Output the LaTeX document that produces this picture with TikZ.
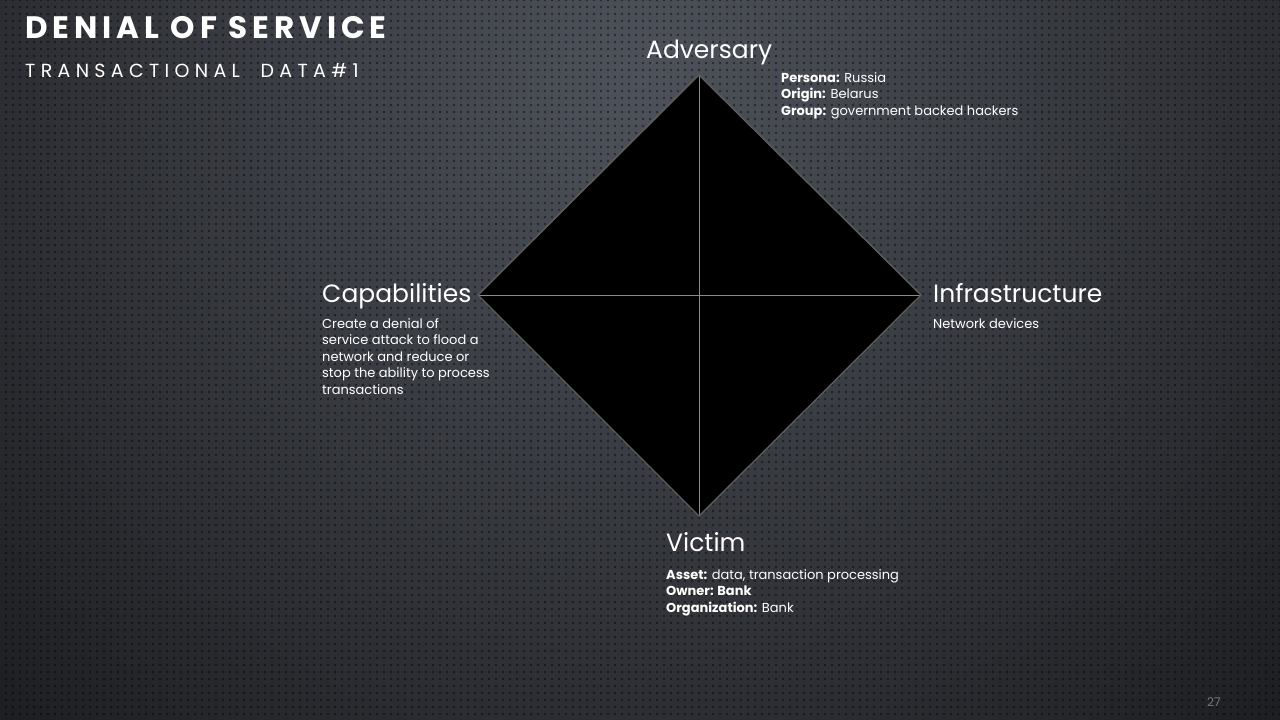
\documentclass[tikz,border=0pt]{standalone}
\usepackage{fontspec}
\setmainfont{Poppins}
\usetikzlibrary{patterns.meta}
\definecolor{bglight}{HTML}{4E525A}
\definecolor{bgdark}{HTML}{18191C}
\definecolor{edgegray}{HTML}{5C5C5C}
\definecolor{crossgray}{HTML}{8A8A8A}
\definecolor{pagegray}{HTML}{7A7A7A}
\begin{document}
\begin{tikzpicture}[x=1pt,y=-1pt,
  heading/.style={text=white,font=\fontsize{25}{28}\selectfont,inner sep=0pt,anchor=base west},
  detail/.style={text=white,font=\fontsize{13}{16.5}\selectfont,inner sep=0pt,anchor=north west,align=left},
  rim/.style={draw=edgegray,line width=1.4pt},
  cross/.style={draw=crossgray,line width=0.8pt}]
  \useasboundingbox (0,0) rectangle (1280,720);
  % background: radial glow with dotted texture
  \begin{scope}
    \clip (0,0) rectangle (1280,720);
    \shade[inner color=bglight,outer color=bgdark] (640,80) circle (1000);
    \fill[pattern={Dots[distance=6.5pt,radius=1.5pt]},pattern color=black,opacity=0.45] (0,0) rectangle (1280,720);
  \end{scope}
  % title
  \node[text=white,font=\bfseries\fontsize{31}{34}\selectfont\addfontfeatures{LetterSpace=16},inner sep=0pt,anchor=base west] (title) at (25,38) {DENIAL OF SERVICE};
  \node[text=white,font=\fontsize{19}{22}\selectfont\addfontfeatures{LetterSpace=28},inner sep=0pt,anchor=base west] (subtitle) at (25,77) {TRANSACTIONAL\ \ DATA\#1};
  % diamond model
  \coordinate (A) at (699,75);
  \coordinate (I) at (921,295);
  \coordinate (V) at (699,516);
  \coordinate (C) at (478,295);
  \fill[black] (A) -- (I) -- (V) -- (C) -- cycle;
  \draw[cross] (A) -- (V);
  \draw[cross] (C) -- (I);
  \draw[rim] (A) -- (I) -- (V) -- (C) -- cycle;
  % vertex labels
  \node[heading] (adv) at (646,58) {Adversary};
  \node[heading] (cap) at (322,302) {Capabilities};
  \node[heading] (inf) at (933,302) {Infrastructure};
  \node[heading] (vic) at (666,551) {Victim};
  % details
  \node[detail] (advtxt) at (781,72) {\textbf{Persona:} Russia\\\textbf{Origin:} Belarus\\\textbf{Group:} government backed hackers};
  \node[detail] (captxt) at (322,318) {Create a denial of\\service attack to flood a\\network and reduce or\\stop the ability to process\\transactions};
  \node[detail] (inftxt) at (933,318) {Network devices};
  \node[detail] (victxt) at (666,569) {\textbf{Asset:} data, transaction processing\\\textbf{Owner: Bank}\\\textbf{Organization:} Bank};
  % page number
  \node[text=pagegray,font=\fontsize{12}{14}\selectfont,inner sep=0pt,anchor=base west] (page) at (1207,706) {27};
\end{tikzpicture}
\end{document}
